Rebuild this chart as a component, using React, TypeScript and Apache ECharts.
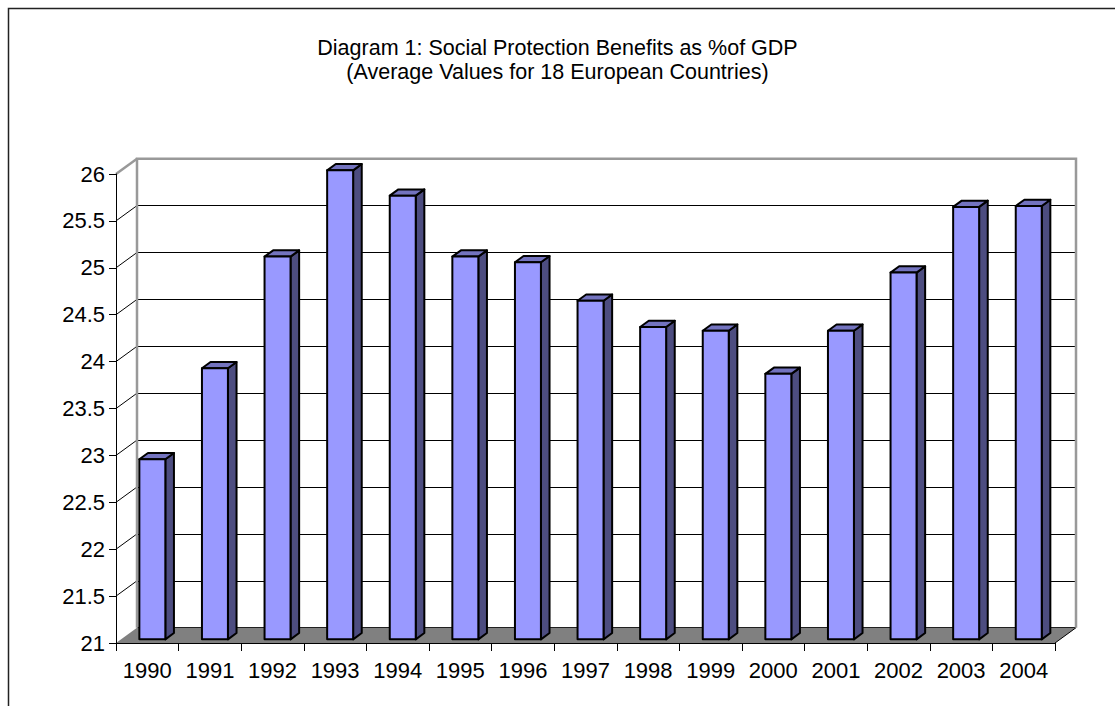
import React, { useEffect, useRef } from "react";
import * as echarts from "echarts";

// ---- data ----
const years = ["1990","1991","1992","1993","1994","1995","1996","1997","1998","1999","2000","2001","2002","2003","2004"];
const benefits = [22.92, 23.89, 25.08, 26.0, 25.73, 25.08, 25.02, 24.61, 24.33, 24.29, 23.83, 24.29, 24.91, 25.61, 25.62];
const yTickValues = [21, 21.5, 22, 22.5, 23, 23.5, 24, 24.5, 25, 25.5, 26];
const titleLines = ["Diagram 1: Social Protection Benefits as %of GDP", "(Average Values for 18 European Countries)"];

const Y_MIN = 21;
const Y_MAX = 26;
const Y_STEP = 0.5;

// 3D geometry (depth offset of back wall)
const DX = 21;
const DY = -15.3;
const F0 = 0.24; // bar front plane depth fraction
const FD = 0.41; // bar depth fraction
const BAR_FRAC = 0.415;

const FONT = "'Liberation Sans', Arial, sans-serif";

const GRID_LEFT = 116;
const GRID_TOP = 174;
const GRID_W = 939;
const GRID_H = 469;

export default function App() {
  const ref = useRef<HTMLDivElement>(null);
  useEffect(() => {
    if (!ref.current) return;
    const chart = echarts.init(ref.current, undefined, { renderer: "svg" });
    const option: any = {
      animation: false,
      backgroundColor: "#fff",
      title: {
        text: titleLines.join("\n"),
        left: "center",
        top: 36,
        padding: 0,
        textStyle: { fontFamily: FONT, fontSize: 21.5, fontWeight: "normal", color: "#000", lineHeight: 24 },
      },
      graphic: [
        {
          type: "rect",
          shape: { x: 8.5, y: 8.5, width: 1300, height: 900 },
          style: { fill: "none", stroke: "#222", lineWidth: 1.5 },
          silent: true,
          z: 100,
        },
      ],
      grid: [
        { left: GRID_LEFT, top: GRID_TOP, width: GRID_W, height: GRID_H },
        { left: GRID_LEFT + DX, top: GRID_TOP + DY, width: GRID_W, height: GRID_H },
      ],
      xAxis: [
        {
          type: "category",
          gridIndex: 0,
          data: years,
          boundaryGap: true,
          axisLine: { lineStyle: { color: "#000", width: 1 } },
          axisTick: { show: true, length: 8, alignWithLabel: false, lineStyle: { color: "#000" } },
          axisLabel: { fontFamily: FONT, fontSize: 22, color: "#000", margin: 16, interval: 0 },
          splitLine: { show: false },
          z: 5,
        },
        { type: "category", gridIndex: 1, data: years, show: false },
      ],
      yAxis: [
        {
          type: "value",
          gridIndex: 0,
          min: Y_MIN,
          max: Y_MAX,
          interval: Y_STEP,
          axisLine: { show: true, lineStyle: { color: "#000", width: 1 } },
          axisTick: { show: true, length: 7, inside: false, lineStyle: { color: "#000" } },
          axisLabel: { fontFamily: FONT, fontSize: 22, color: "#000", margin: 11 },
          splitLine: { show: false },
          z: 5,
        },
        {
          type: "value",
          gridIndex: 1,
          min: Y_MIN,
          max: Y_MAX,
          interval: Y_STEP,
          axisLine: { show: false },
          axisTick: { show: false },
          axisLabel: { show: false },
          splitLine: { show: true, lineStyle: { color: "#000", width: 1 } },
        },
      ],
      series: [
        {
          type: "custom",
          name: "frame",
          xAxisIndex: 0,
          yAxisIndex: 0,
          z: 1,
          silent: true,
          data: [[0, Y_MIN]],
          renderItem: (params: any, api: any) => {
            const cs = params.coordSys;
            const x0 = cs.x;
            const y0 = cs.y;
            const xb = cs.x + cs.width;
            const yb = cs.y + cs.height;
            const children: any[] = [];
            children.push({
              type: "polygon",
              shape: { points: [[x0, yb], [x0 + DX, yb + DY], [xb + DX, yb + DY], [xb, yb]] },
              style: { fill: "#808080", stroke: "none" },
            });
            children.push({
              type: "line",
              shape: { x1: xb, y1: yb, x2: xb + DX, y2: yb + DY },
              style: { stroke: "#000", lineWidth: 1 },
            });
            yTickValues.forEach((t) => {
              if (t === Y_MAX || t === Y_MIN) return;
              const y = api.coord([0, t])[1];
              children.push({
                type: "line",
                shape: { x1: x0, y1: y, x2: x0 + DX, y2: y + DY },
                style: { stroke: "#000", lineWidth: 1 },
              });
            });
            children.push({
              type: "polyline",
              shape: { points: [[x0 + DX, yb + DY], [x0 + DX, y0 + DY], [xb + DX, y0 + DY], [xb + DX, yb + DY]] },
              style: { fill: "none", stroke: "#999", lineWidth: 2.5 },
            });
            children.push({
              type: "line",
              shape: { x1: x0, y1: y0, x2: x0 + DX, y2: y0 + DY },
              style: { stroke: "#999", lineWidth: 2.5 },
            });
            return { type: "group", children };
          },
        },
        {
          type: "custom",
          name: "Benefits",
          xAxisIndex: 0,
          yAxisIndex: 0,
          z: 3,
          data: years.map((y, i) => [i, benefits[i]]),
          renderItem: (params: any, api: any) => {
            const cat = api.value(0);
            const v = api.value(1);
            const p = api.coord([cat, v]);
            const base = api.coord([cat, Y_MIN]);
            const band = api.size([1, 0])[0];
            const w = band * BAR_FRAC;
            const ox = F0 * DX;
            const oy = F0 * DY;
            const l = p[0] - w / 2 + ox;
            const r = l + w;
            const t = p[1] + oy;
            const b = base[1] + oy;
            const dx = FD * DX;
            const dy = FD * DY;
            const stroke = { stroke: "#000", lineWidth: 2, lineJoin: "round" };
            return {
              type: "group",
              children: [
                {
                  type: "polygon",
                  shape: { points: [[r, t], [r + dx, t + dy], [r + dx, b + dy], [r, b]] },
                  style: { fill: "#4D4D80", ...stroke },
                },
                {
                  type: "polygon",
                  shape: { points: [[l, t], [l + dx, t + dy], [r + dx, t + dy], [r, t]] },
                  style: { fill: "#7373BF", ...stroke },
                },
                {
                  type: "rect",
                  shape: { x: l, y: t, width: w, height: b - t },
                  style: { fill: "#9999FF", ...stroke },
                },
              ],
            };
          },
        },
      ],
    };
    chart.setOption(option);
    return () => chart.dispose();
  }, []);
  return (
    <div
      ref={ref}
      style={{ position: "fixed", left: 0, top: 0, width: 1115, height: 706, background: "#fff" }}
    />
  );
}
